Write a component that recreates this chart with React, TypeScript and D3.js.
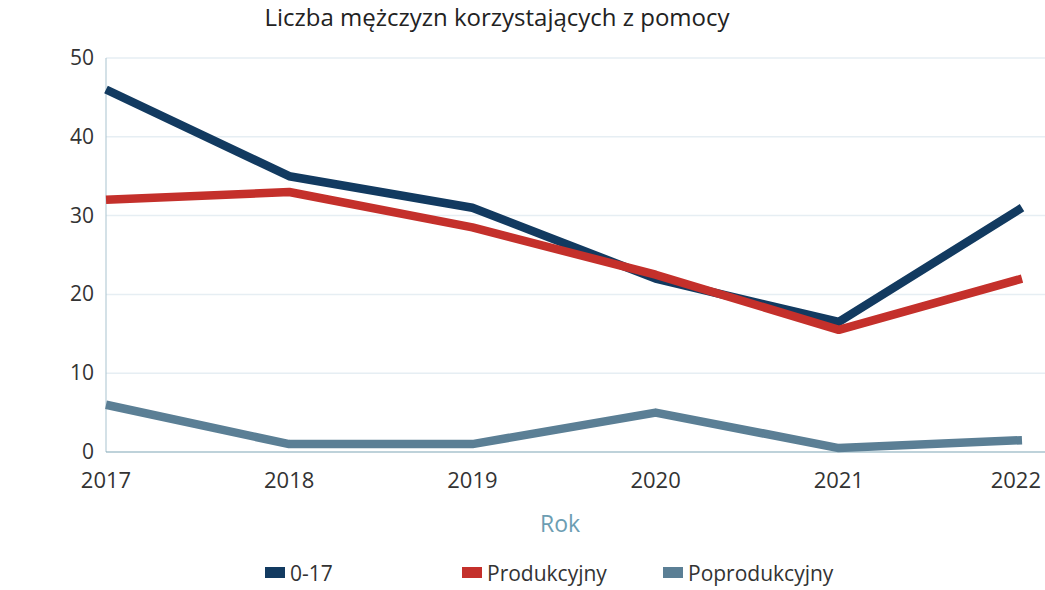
import React from "react";
import * as d3 from "d3";

const years = [2017, 2018, 2019, 2020, 2021, 2022];
const s017 = [46, 35, 31, 22, 16.5, 31];
const sProd = [32, 33, 28.5, 22.5, 15.5, 22];
const sPoprod = [6, 1, 1, 5, 0.5, 1.5];
const yTicks = [0, 10, 20, 30, 40, 50];
const seriesNames = ["0-17", "Produkcyjny", "Poprodukcyjny"];
const colors = ["#123a60", "#c4302b", "#5b7f95"];

export default function App() {
  const W = 1045, H = 590;
  const x = d3.scaleLinear().domain([2017, 2022]).range([106, 1022]);
  const y = d3.scaleLinear().domain([0, 50]).range([452, 58]);
  const line = d3.line<number>().x((_, i) => x(years[i])).y((d) => y(d));
  const all = [s017, sProd, sPoprod];
  const font = "'Open Sans', 'Noto Sans', sans-serif";
  const legendX = [265, 462, 663];
  return (
    <svg width={W} height={H} style={{ position: "absolute", left: 0, top: 0, background: "#fff" }} fontFamily={font}>
      <text x={497} y={26} textAnchor="middle" fontSize={24} fill="#222">Liczba mężczyzn korzystających z pomocy</text>
      {yTicks.filter((t) => t > 0).map((t) => (
        <line key={t} x1={106} x2={1045} y1={y(t)} y2={y(t)} stroke="#e6eef3" strokeWidth={1.5} />
      ))}
      <line x1={106} x2={106} y1={y(50)} y2={y(0)} stroke="#a9c3cf" strokeWidth={1} />
      <line x1={106} x2={1045} y1={y(0)} y2={y(0)} stroke="#7fa6b5" strokeWidth={1.2} />
      {yTicks.map((t) => (
        <text key={t} x={94} y={y(t) + 7} textAnchor="end" fontSize={21} fill="#333">{t}</text>
      ))}
      {years.map((yr, i) => (
        <text key={yr} x={i === years.length - 1 ? 1041 : x(yr)} y={488} textAnchor={i === years.length - 1 ? "end" : "middle"} fontSize={22} fill="#333">{yr}</text>
      ))}
      <text x={560} y={532} textAnchor="middle" fontSize={23} fill="#6c9db2">Rok</text>
      {all.map((s, i) => (
        <path key={i} d={line(s) || ""} fill="none" stroke={colors[i]} strokeWidth={8.5} strokeLinejoin="round" />
      ))}
      {seriesNames.map((n, i) => (
        <g key={n}>
          <rect x={legendX[i]} y={567} width={20} height={11} fill={colors[i]} />
          <text x={legendX[i] + 25} y={581} fontSize={21} fill="#333">{n}</text>
        </g>
      ))}
    </svg>
  );
}
